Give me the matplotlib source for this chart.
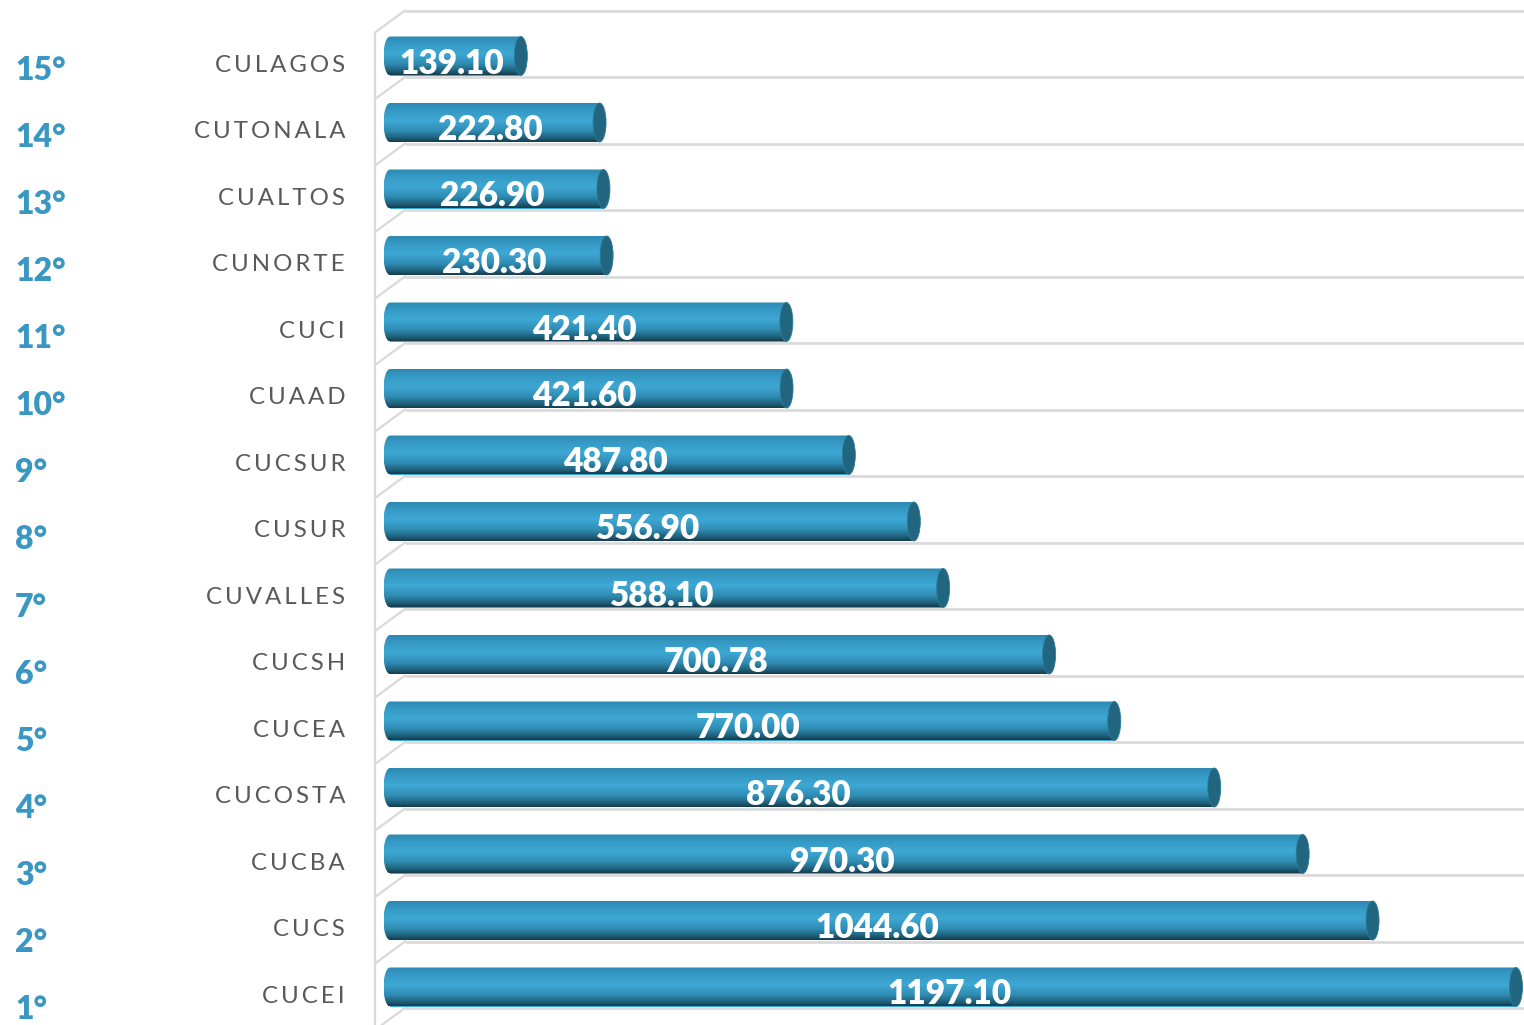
import numpy as np
import matplotlib
matplotlib.use("Agg")
import matplotlib.pyplot as plt
from matplotlib.colors import LinearSegmentedColormap
from matplotlib.patches import Ellipse, PathPatch
from matplotlib.path import Path

# datos (de arriba hacia abajo, como en la imagen)
lugares = ["15°", "14°", "13°", "12°", "11°", "10°", "9°", "8°", "7°", "6°", "5°", "4°", "3°", "2°", "1°"]
centros = ["CULAGOS", "CUTONALA", "CUALTOS", "CUNORTE", "CUCI", "CUAAD", "CUCSUR", "CUSUR",
           "CUVALLES", "CUCSH", "CUCEA", "CUCOSTA", "CUCBA", "CUCS", "CUCEI"]
valores = [139.10, 222.80, 226.90, 230.30, 421.40, 421.60, 487.80, 556.90,
           588.10, 700.78, 770.00, 876.30, 970.30, 1044.60, 1197.10]

W, H = 1524, 1025
escala = 0.9406          # pixeles por unidad
x0px = 390               # donde cae el cero
paso = 66.5              # pixeles entre barras
y0px = 987               # centro de la barra de abajo

fig = plt.figure(figsize=(W / 100, H / 100), dpi=100)
ax = fig.add_axes([0, 0, 1, 1])
ax.set_xlim(-x0px / escala, (W - x0px) / escala)
ax.set_ylim(-(H - y0px) / paso, y0px / paso)
ax.axis("off")


def px2x(px):
    return (px - x0px) / escala


n = len(valores)
ys = np.arange(n)[::-1]       # CULAGOS arriba
h = 39 / paso
a = 6.5 / escala               # semieje de las tapas
b = h / 2

# lineas de fondo (efecto 3D)
gris = "#d9d9d9"
lineas = list(ys + 45.5 / paso) + [ys[-1] - 1 + 45.5 / paso]
for ly in lineas:
    ax.plot([px2x(405), px2x(W + 5)], [ly, ly], color=gris, lw=1.9, zorder=1, solid_capstyle="butt")
    ax.plot([px2x(405), px2x(375)], [ly, ly - 22 / paso], color=gris, lw=1.6, zorder=1)
ax.plot([px2x(375), px2x(375)], [max(lineas) - 22 / paso, -(H - y0px) / paso - 1], color=gris, lw=1.6, zorder=1)

# barras cilindricas
cmap = LinearSegmentedColormap.from_list("cil", [
    (0.0, "#2d89b2"), (0.18, "#3499c4"), (0.45, "#3ea8d4"),
    (0.72, "#2f8bb2"), (0.9, "#1f607a"), (1.0, "#163d4f")])
grad = cmap(np.linspace(0, 1, 64))[:, None, :3]

fuente = ["Lato", "DejaVu Sans"]
barras = ax.barh(ys, valores, height=h, color="#3ea8d4", zorder=2)
for rect, v, y in zip(barras, valores, ys):
    t = np.linspace(np.pi / 2, 3 * np.pi / 2, 40)
    pts = np.column_stack([a * np.cos(t), y + b * np.sin(t)])
    pts = np.vstack([pts, [[v, y - b], [v, y + b], [a * np.cos(t[0]), y + b]]])
    clip = PathPatch(Path(pts, closed=True), transform=ax.transData)
    im = ax.imshow(grad, extent=(-a, v, y - b, y + b), aspect="auto", origin="upper",
                   interpolation="bilinear", zorder=3)
    im.set_clip_path(clip)
    ax.add_patch(Ellipse((v, y), 2 * a, 2 * b, facecolor="#22657e", edgecolor="#2b7c9c", lw=0.6, zorder=4))
    ax.text(v / 2 - 4 / escala, y - b + 2 / paso, f"{v:.2f}", ha="center", va="baseline",
            color="white", fontsize=24, fontweight="heavy", family=fuente, zorder=5)

# nombres de los centros con espaciado entre letras
for nombre, y in zip(centros, ys):
    ax.text(px2x(345), y - 15.7 / paso, "\u2009".join(nombre), ha="right", va="baseline",
            color="#595959", fontsize=17.3, family=fuente)

# lugares
for k, lugar in enumerate(lugares):
    ax.text(15 / W, 1 - (80 + k * 67.07) / H, lugar, transform=ax.transAxes,
            ha="left", va="baseline", color="#3a97c2", fontsize=23, fontweight="heavy",
            family=fuente)

fig.savefig("out.png", dpi=100)
